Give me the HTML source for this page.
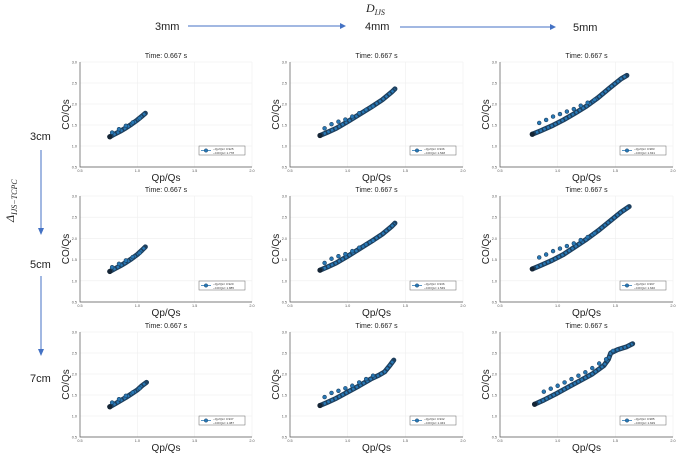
<!DOCTYPE html>
<html><head><meta charset="utf-8"><style>
body{margin:0;background:#fff;font-family:"Liberation Sans",sans-serif}
svg{display:block}
</style></head><body>
<svg id="c" width="678" height="454" xmlns="http://www.w3.org/2000/svg">
<g font-size="11" fill="#222">
<text x="366" y="12" font-style="italic" font-family="Liberation Serif" font-size="12">D<tspan font-size="8" dy="3">IJS</tspan></text>
<text x="155" y="30">3mm</text><text x="365" y="30">4mm</text><text x="573" y="31">5mm</text>
<line x1="188" y1="26" x2="340" y2="26" stroke="#4472c4" stroke-width="1"/><path d="M340,23 L346,26 L340,29Z" fill="#4472c4"/>
<line x1="400" y1="27" x2="550" y2="27" stroke="#4472c4" stroke-width="1"/><path d="M550,24 L556,27 L550,30Z" fill="#4472c4"/>
</g>
<g font-size="11" fill="#222">
<text x="30" y="140">3cm</text><text x="30" y="268">5cm</text><text x="30" y="382">7cm</text>
<text transform="translate(14,222) rotate(-90)" font-style="italic" font-family="Liberation Serif" font-size="12">Δ<tspan font-size="8" dy="3">IJS−TCPC</tspan></text>
<line x1="41" y1="150" x2="41" y2="228" stroke="#4472c4"/><path d="M38,228 L41,235 L44,228Z" fill="#4472c4"/>
<line x1="41" y1="276" x2="41" y2="349" stroke="#4472c4"/><path d="M38,349 L41,356 L44,349Z" fill="#4472c4"/>
</g>
<g id="panels"></g>
</svg>
<script>
const xTicks=[0.5,1.0,1.5,2.0];
const yTicks=[0.5,1.0,1.5,2.0,2.5,3.0];
const lowX=[
[0.76,0.80,0.85,0.90,0.95,1.00,1.04,1.07],
[0.76,0.82,0.90,1.00,1.10,1.20,1.30,1.38,1.41],
[0.78,0.85,0.95,1.05,1.15,1.25,1.35,1.45,1.55,1.60],
[0.76,0.80,0.85,0.90,0.95,1.00,1.04,1.07],
[0.76,0.82,0.90,1.00,1.10,1.20,1.30,1.38,1.41],
[0.78,0.85,0.95,1.05,1.15,1.25,1.35,1.45,1.55,1.62],
[0.76,0.80,0.85,0.90,0.95,1.00,1.04,1.08],
[0.76,0.82,0.90,1.00,1.10,1.20,1.27,1.32,1.37,1.40],
[0.80,0.88,0.98,1.10,1.20,1.30,1.40,1.44,1.46,1.52,1.60,1.65]];
const lowY=[
[1.22,1.28,1.35,1.43,1.52,1.62,1.71,1.78],
[1.25,1.32,1.42,1.58,1.75,1.92,2.10,2.28,2.36],
[1.28,1.36,1.48,1.62,1.78,1.95,2.15,2.38,2.60,2.68],
[1.22,1.28,1.35,1.43,1.52,1.62,1.72,1.80],
[1.25,1.32,1.42,1.58,1.75,1.92,2.10,2.28,2.36],
[1.28,1.36,1.48,1.62,1.80,1.98,2.18,2.40,2.62,2.75],
[1.22,1.28,1.36,1.44,1.53,1.62,1.72,1.80],
[1.25,1.32,1.42,1.57,1.72,1.88,1.97,2.05,2.22,2.33],
[1.28,1.38,1.52,1.70,1.85,2.00,2.20,2.35,2.50,2.58,2.65,2.72]];
const upX=[
[0.78,0.84,0.90,0.96,1.02],
[0.80,0.86,0.92,0.98,1.04,1.10,1.16,1.22],
[0.84,0.90,0.96,1.02,1.08,1.14,1.20,1.26,1.32],
[0.78,0.84,0.90,0.96,1.02],
[0.80,0.86,0.92,0.98,1.04,1.10,1.16,1.22],
[0.84,0.90,0.96,1.02,1.08,1.14,1.20,1.26,1.32],
[0.78,0.84,0.90,0.96,1.02],
[0.80,0.86,0.92,0.98,1.04,1.10,1.16,1.22],
[0.88,0.94,1.00,1.06,1.12,1.18,1.24,1.30,1.36,1.42,1.48]];
const upY=[
[1.32,1.40,1.48,1.56,1.66],
[1.42,1.52,1.58,1.63,1.70,1.78,1.86,1.95],
[1.55,1.62,1.70,1.76,1.82,1.88,1.96,2.03,2.10],
[1.32,1.40,1.48,1.56,1.66],
[1.42,1.52,1.58,1.63,1.70,1.78,1.86,1.95],
[1.55,1.62,1.70,1.76,1.82,1.88,1.96,2.03,2.12],
[1.32,1.40,1.48,1.56,1.66],
[1.45,1.55,1.60,1.66,1.72,1.80,1.88,1.96],
[1.58,1.65,1.72,1.80,1.88,1.96,2.04,2.14,2.25,2.35,2.55]];
const legQ=["0.925","0.936","0.983","0.920","0.936","0.997","0.937","0.932","0.985"];
const legC=["1.778","1.548","1.631","1.885","1.549","1.640","1.387","1.343","1.629"];
const colX=[[80,252],[290,463],[500,673]];
const rowY=[[62,167],[196,302],[332,437]];
const NS="http://www.w3.org/2000/svg";
const root=document.getElementById('panels');
function mk(t,a,p){const e=document.createElementNS(NS,t);for(const k in a)e.setAttribute(k,a[k]);(p||root).appendChild(e);return e;}
for(let r=0;r<3;r++)for(let c=0;c<3;c++){
 const i=r*3+c,[x0,x1]=colX[c],[y0,y1]=rowY[r];
 const sx=v=>x0+(v-0.5)/1.5*(x1-x0), sy=v=>y1-(v-0.5)/2.5*(y1-y0);
 const g=mk('g',{});
 
 
 xTicks.forEach(t=>{mk('line',{x1:sx(t),x2:sx(t),y1:y0,y2:y1,stroke:'#eee','stroke-width':0.6},g);
  const tx=mk('text',{x:sx(t),y:y1+5,'font-size':3.8,'text-anchor':'middle',fill:'#555'},g);tx.textContent=t.toFixed(1);
  
  });
 yTicks.forEach(t=>{mk('line',{x1:x0,x2:x1,y1:sy(t),y2:sy(t),stroke:'#eee','stroke-width':0.6},g);
  const tx=mk('text',{x:x0-3,y:sy(t)+1.5,'font-size':3.8,'text-anchor':'end',fill:'#555'},g);tx.textContent=t.toFixed(1);
  
  });
 mk('path',{d:`M${x0},${y0} V${y1} H${x1}`,stroke:'#555','stroke-width':0.7,fill:'none'},g);
 const tt=mk('text',{x:(x0+x1)/2,y:y0-4,'font-size':7,'text-anchor':'middle',fill:'#222'},g);tt.textContent='Time: 0.667 s';
 
 
 const xl=mk('text',{x:(x0+x1)/2,y:y1+14,'font-size':10,'text-anchor':'middle',fill:'#222'},g);xl.textContent='Qp/Qs';
 
 
 const yl=mk('text',{transform:`translate(${x0-11},${(y0+y1)/2}) rotate(-90)`,'font-size':10,'text-anchor':'middle',fill:'#222'},g);yl.textContent='CO/Qs';
 
 
 const pts=lowX[i].map((v,k)=>sx(v)+','+sy(lowY[i][k])).join(' ');
 const pl=mk('polyline',{points:pts,fill:'none',stroke:'#1d3f5e','stroke-width':5,'stroke-linejoin':'round','stroke-linecap':'round'},g);
 
 
 mk('polyline',{points:pts,fill:'none',stroke:'#2878b5','stroke-width':2.6,'stroke-dasharray':'2.5 1.5','stroke-linejoin':'round'},g);
 upX[i].forEach((v,k)=>{const d=mk('circle',{cx:sx(v),cy:sy(upY[i][k]),r:1.9,fill:'#2878b5',stroke:'#1d3f5e','stroke-width':0.6},g);
  
  });
 const sp=mk('circle',{cx:sx(lowX[i][0]),cy:sy(lowY[i][0]),r:2.6,fill:'#152535'},g);
 
 
 const lx=x1-53,ly=y1-21;
 const lg=mk('g',{},g);
 
 
 mk('rect',{x:lx,y:ly,width:46,height:9,fill:'#fff',stroke:'#666','stroke-width':0.5},lg);
 mk('line',{x1:lx+2,x2:lx+12,y1:ly+4.5,y2:ly+4.5,stroke:'#2878b5','stroke-width':0.8},lg);
 mk('circle',{cx:lx+7,cy:ly+4.5,r:1.8,fill:'#2878b5',stroke:'#1d3f5e','stroke-width':0.4},lg);
 const a=mk('text',{x:lx+14,y:ly+4,'font-size':3,fill:'#333'},lg);a.textContent='~Qp/Qs= '+legQ[i];
 const b=mk('text',{x:lx+14,y:ly+7.8,'font-size':3,fill:'#333'},lg);b.textContent='~CO/Qs= '+legC[i];
}
</script>
</body></html>
